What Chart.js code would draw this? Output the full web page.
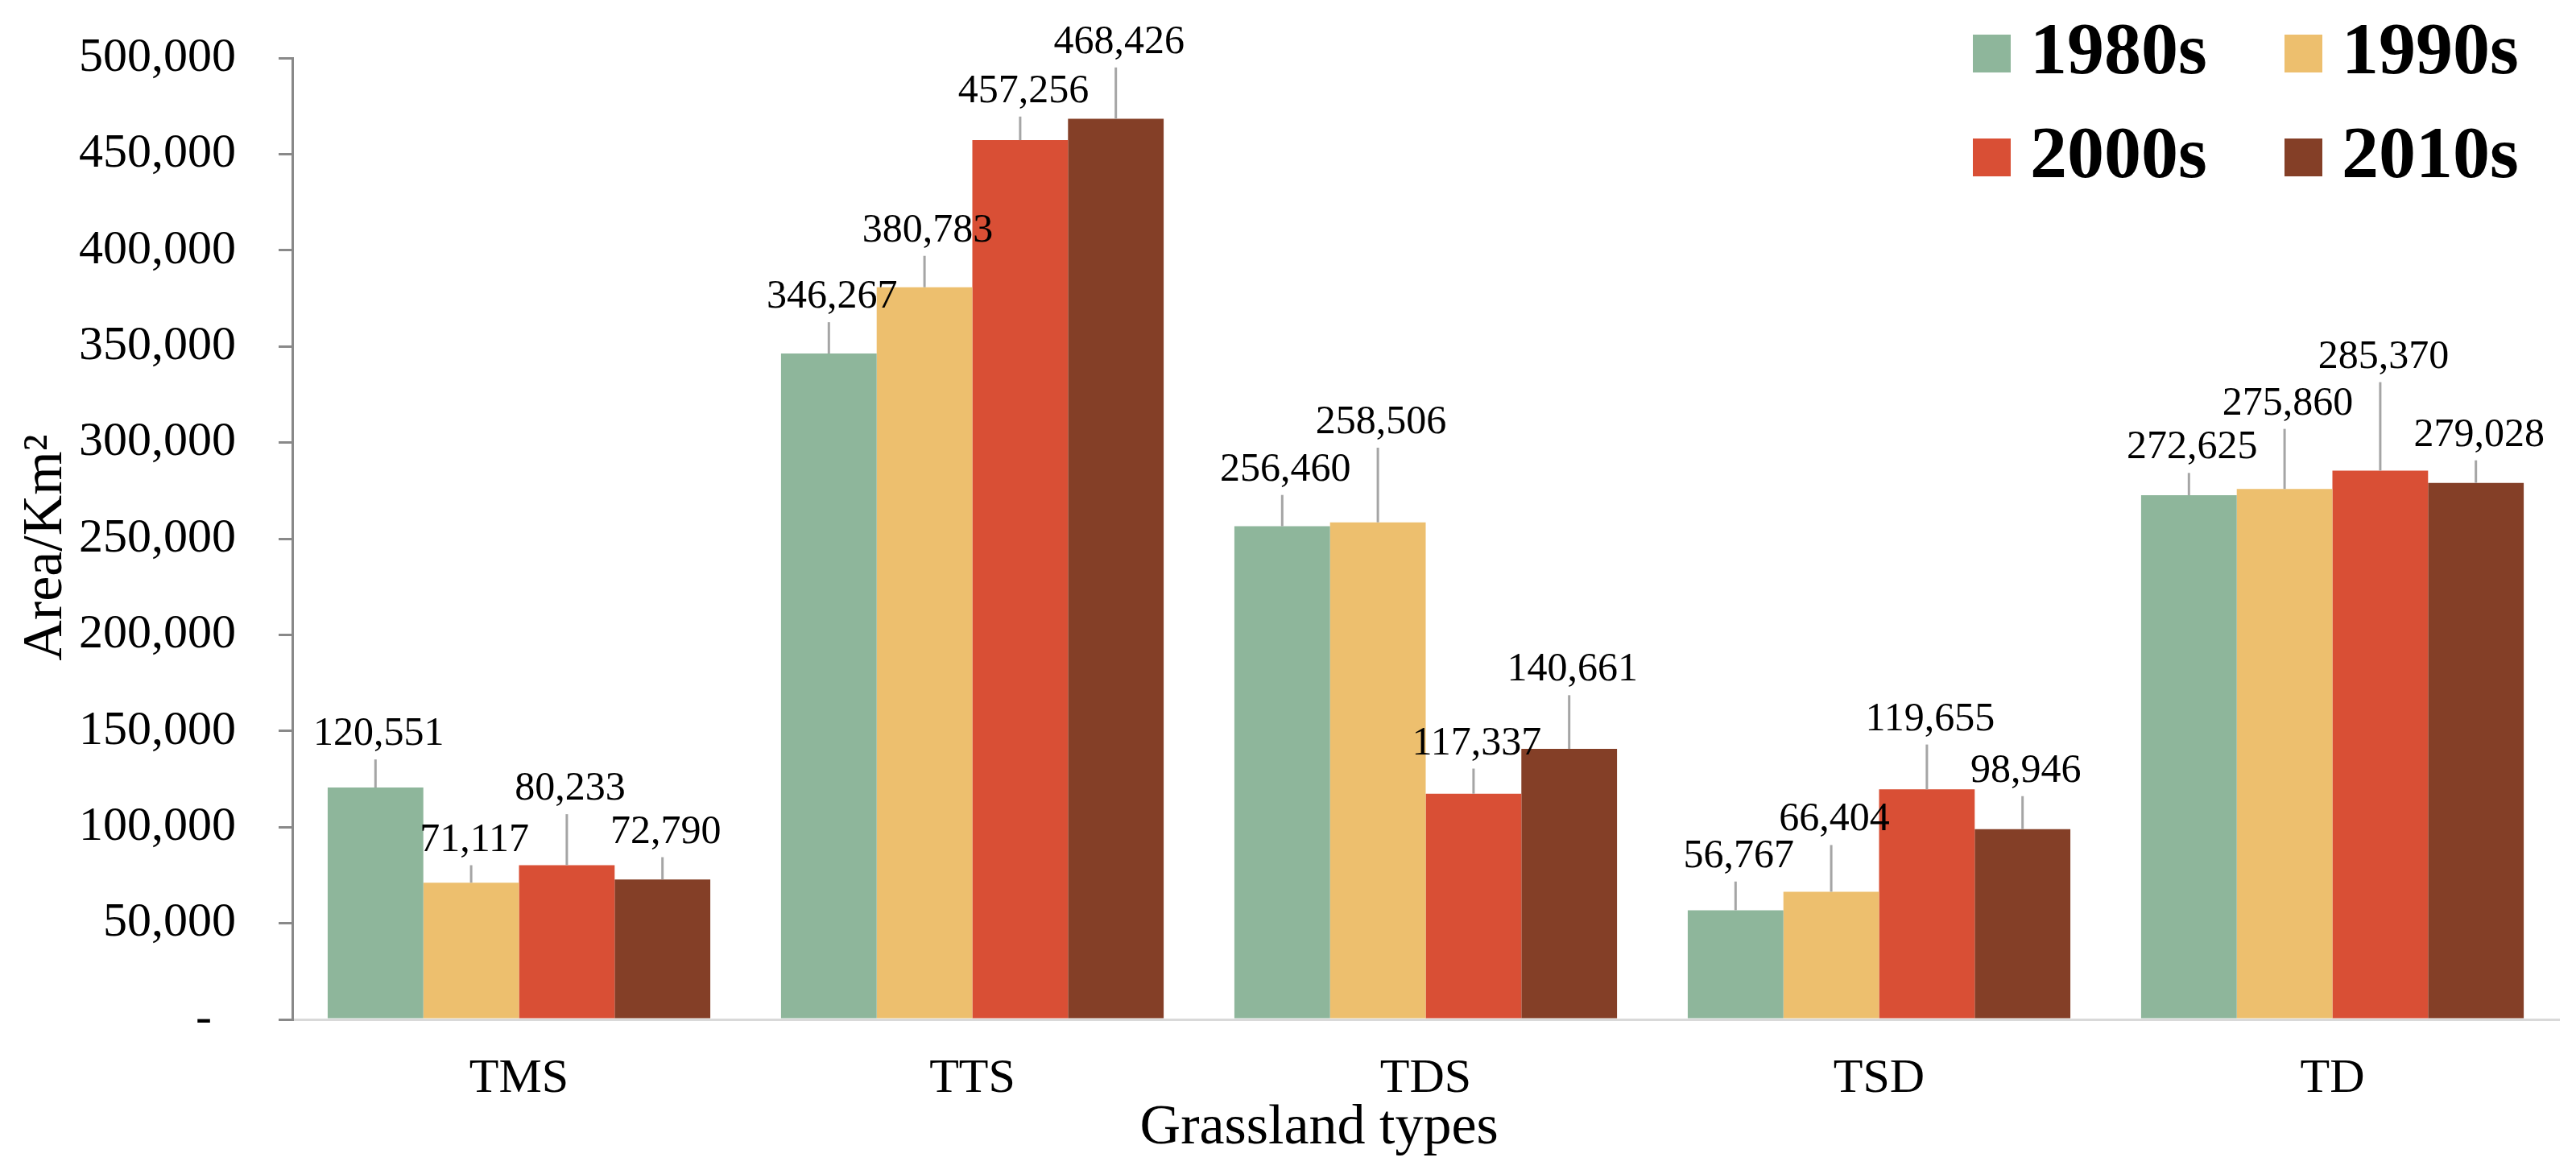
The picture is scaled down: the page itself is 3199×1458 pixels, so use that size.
<!DOCTYPE html>
<html>
<head>
<meta charset="utf-8">
<script src="https://cdn.jsdelivr.net/npm/chart.js@4.4.1/dist/chart.umd.min.js"></script>
<style>
  html, body { margin: 0; padding: 0; background: #ffffff; }
  #wrap { width: 3199px; height: 1458px; position: relative; }
</style>
</head>
<body>
<div id="wrap"><canvas id="c" width="3199" height="1458"></canvas></div>
<script>
// ---- data ----
const categories = ['TMS', 'TTS', 'TDS', 'TSD', 'TD'];
const seriesNames = ['1980s', '1990s', '2000s', '2010s'];
const v1980 = [120551, 346267, 256460, 56767, 272625];
const v1990 = [71117, 380783, 258506, 66404, 275860];
const v2000 = [80233, 457256, 117337, 119655, 285370];
const v2010 = [72790, 468426, 140661, 98946, 279028];
// upper error bar lengths
const e1980 = [14650, 16320, 16290, 14930, 11580];
const e1990 = [9070, 16320, 38820, 24280, 31250];
const e2000 = [26500, 12280, 13100, 23300, 46040];
const e2010 = [11580, 26650, 27960, 17160, 11720];
const yTicksMin = 0, yTicksMax = 500000, yTicksStep = 50000;
const yTitle = 'Area/Km²';
const xTitle = 'Grassland types';

// ---- styles ----
const colors = ['#8EB69B', '#EDBF6E', '#D94F35', '#843F27'];
const SERIF = "'Times New Roman', 'Liberation Serif', serif";
const values = [v1980, v1990, v2000, v2010];
const errors = [e1980, e1990, e2000, e2010];

const fmt = n => n.toLocaleString('en-US');

const overlay = {
  id: 'overlay',
  afterDatasetsDraw(chart) {
    const ctx = chart.ctx;
    const ys = chart.scales.y;
    ctx.save();
    // error bars
    chart.data.datasets.forEach((ds, i) => {
      const meta = chart.getDatasetMeta(i);
      meta.data.forEach((bar, j) => {
        const top = ys.getPixelForValue(ds.data[j] + errors[i][j]);
        ctx.strokeStyle = '#A5A5A5';
        ctx.lineWidth = 3;
        ctx.beginPath();
        ctx.moveTo(bar.x, bar.y);
        ctx.lineTo(bar.x, top);
        ctx.stroke();
      });
    });
    // data labels
    ctx.fillStyle = '#000000';
    ctx.font = '50px ' + SERIF;
    ctx.textAlign = 'center';
    ctx.textBaseline = 'alphabetic';
    chart.data.datasets.forEach((ds, i) => {
      const meta = chart.getDatasetMeta(i);
      meta.data.forEach((bar, j) => {
        const top = ys.getPixelForValue(ds.data[j] + errors[i][j]);
        ctx.fillText(fmt(ds.data[j]), bar.x + 4, top - 18);
      });
    });
    ctx.restore();
  },
  afterDraw(chart) {
    const ctx = chart.ctx;
    const ca = chart.chartArea;
    ctx.save();
    // legend (2 x 2)
    ctx.font = 'bold 92px ' + SERIF;
    ctx.textAlign = 'left';
    ctx.textBaseline = 'middle';
    chart.data.datasets.forEach((ds, i) => {
      const col = i % 2, row = Math.floor(i / 2);
      const sx = 2450 + col * 387, sy = 43 + row * 129;
      ctx.fillStyle = ds.backgroundColor;
      ctx.fillRect(sx, sy, 47, 47);
      ctx.fillStyle = '#000000';
      ctx.fillText(ds.label, sx + 71, sy + 24);
    });
    // y title
    ctx.font = '70px ' + SERIF;
    ctx.textAlign = 'center';
    ctx.textBaseline = 'middle';
    ctx.translate(58, (ca.top + ca.bottom) / 2 + 11);
    ctx.rotate(-Math.PI / 2);
    ctx.fillText(yTitle, 0, 0);
    ctx.setTransform(1, 0, 0, 1, 0, 0);
    // x title
    ctx.textBaseline = 'alphabetic';
    ctx.fillText(xTitle, ca.left + (ca.right - ca.left) * 0.453, 1420);
    ctx.restore();
  }
};

new Chart(document.getElementById('c'), {
  type: 'bar',
  data: {
    labels: categories,
    datasets: seriesNames.map((name, i) => ({
      label: name,
      data: values[i],
      backgroundColor: colors[i],
      borderWidth: 0,
      categoryPercentage: 0.844,
      barPercentage: 1.0
    }))
  },
  options: {
    responsive: false,
    devicePixelRatio: 1,
    animation: false,
    layout: { padding: { left: 0, right: 21, top: 72, bottom: 0 } },
    plugins: { legend: { display: false }, tooltip: { enabled: false } },
    scales: {
      x: {
        grid: { display: false, drawTicks: false },
        border: { display: true, color: '#D9D9D9', width: 3 },
        ticks: { color: '#000000', font: { family: SERIF, size: 60 }, padding: 38 },
        afterFit(scale) { scale.height = 192; }
      },
      y: {
        min: yTicksMin,
        max: yTicksMax,
        grid: { drawOnChartArea: false, drawTicks: true, tickLength: 17, color: '#898989', lineWidth: 3 },
        border: { display: true, color: '#898989', width: 3 },
        ticks: {
          stepSize: yTicksStep,
          color: '#000000',
          font: { family: SERIF, size: 60 },
          padding: 53,
          callback: v => v === 0 ? '-  ' : fmt(v)
        },
        afterFit(scale) {
          scale.width = 363;
          scale.paddingTop = 36;
          scale.paddingBottom = 36;
        }
      }
    }
  },
  plugins: [overlay]
});
</script>
</body>
</html>
